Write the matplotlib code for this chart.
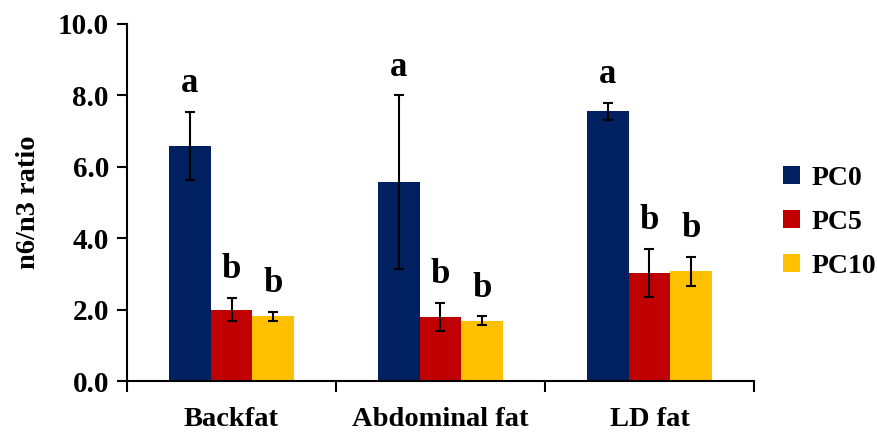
import matplotlib.pyplot as plt
import numpy as np

plt.rcParams['font.family'] = ['Liberation Serif', 'DejaVu Serif']
plt.rcParams['font.weight'] = 'bold'

categories = ['Backfat', 'Abdominal fat', 'LD fat']
series = ['PC0', 'PC5', 'PC10']
means = {
    'PC0': [6.59, 5.57, 7.55],
    'PC5': [2.00, 1.79, 3.03],
    'PC10': [1.81, 1.69, 3.07],
}
errors = {
    'PC0': [0.95, 2.43, 0.24],
    'PC5': [0.33, 0.40, 0.67],
    'PC10': [0.13, 0.12, 0.40],
}
letters = {
    'PC0': ['a', 'a', 'a'],
    'PC5': ['b', 'b', 'b'],
    'PC10': ['b', 'b', 'b'],
}
colors = ['#002060', '#C00000', '#FFC000']

fig = plt.figure(figsize=(8.78, 4.34), dpi=100)
ax = fig.add_axes([0.1447, 0.122, 0.714, 0.823])

x = np.arange(len(categories))
w = 0.2
for i, s in enumerate(series):
    xs = x + (i - 1) * w
    ax.bar(xs, means[s], w, color=colors[i], label=s, zorder=2)
    ax.errorbar(xs, means[s], yerr=errors[s], fmt='none', ecolor='black',
                elinewidth=1.5, capsize=3.5, capthick=1.5, zorder=3)
    for xi, m, e, t in zip(xs, means[s], errors[s], letters[s]):
        ax.text(xi, m + e + 0.55, t, ha='center', va='baseline',
                fontsize=25, fontweight='bold')

ax.set_xlim(-0.5, 2.5)
ax.set_ylim(0, 10)
ax.set_yticks(np.arange(0, 10.1, 2))
ax.set_yticklabels(['%.1f' % v for v in np.arange(0, 10.1, 2)])
ax.tick_params(axis='y', labelsize=21, length=7, width=1.5, pad=6)

ax.set_xticks(x)
ax.set_xticklabels(categories)
ax.set_xticks(np.arange(-0.5, 2.6, 1), minor=True)
ax.tick_params(axis='x', which='major', length=0, labelsize=20.5, pad=19)
ax.tick_params(axis='x', which='minor', length=8, width=1.5)

for sp in ['top', 'right']:
    ax.spines[sp].set_visible(False)
for sp in ['left', 'bottom']:
    ax.spines[sp].set_linewidth(1.5)

ax.set_ylabel('n6/n3 ratio', fontsize=20.5, fontweight='bold')
ax.yaxis.set_label_coords(-0.138, 0.5)

fig.legend(loc='center left', bbox_to_anchor=(0.876, 0.487), frameon=False,
           fontsize=20, handlelength=0.62, handleheight=0.62,
           handletextpad=0.4, labelspacing=0.68, borderpad=0)

fig.savefig('out.png', dpi=100)
